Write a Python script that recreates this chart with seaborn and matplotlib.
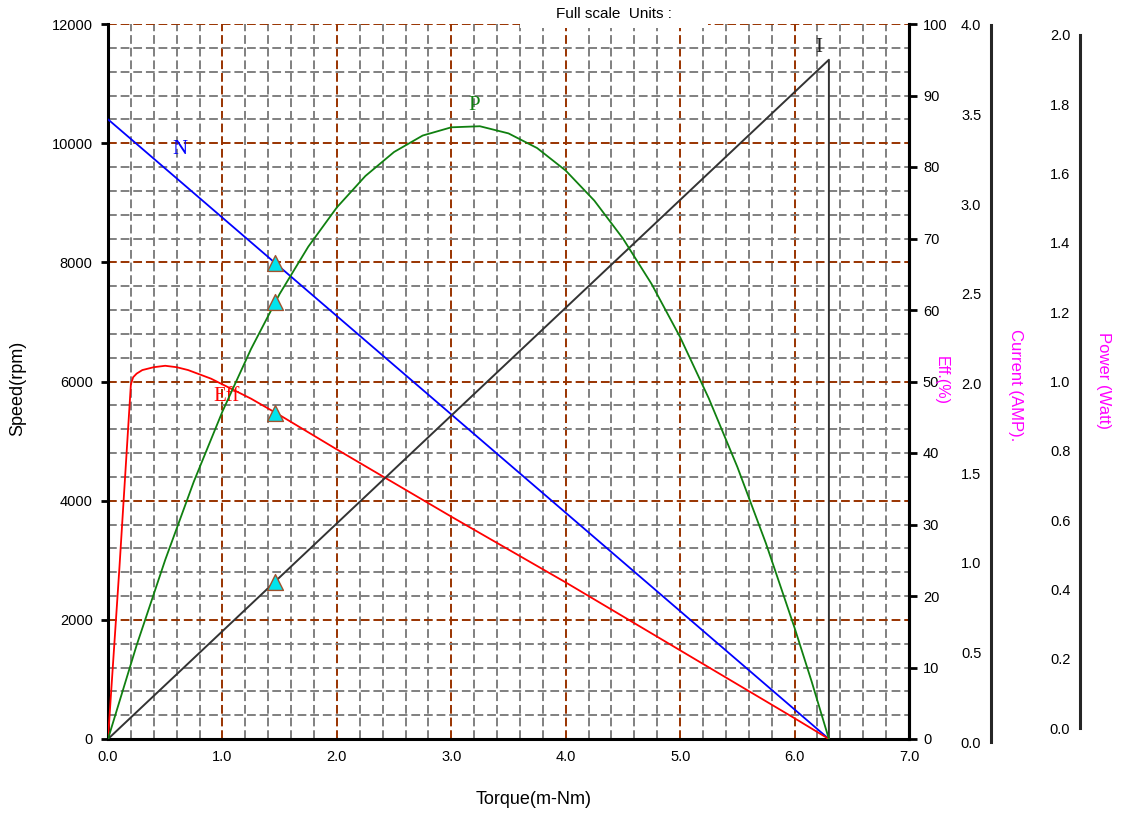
import matplotlib
matplotlib.use("Agg")
import matplotlib.pyplot as plt
import seaborn as sns
import numpy as np
import pandas as pd
from matplotlib.ticker import MultipleLocator
from matplotlib.patches import Rectangle

# ---------------- data ----------------
speed_torque = [0.0, 6.3]
speed_rpm = [10400, 0]

cur_torque = [0.0, 6.3, 6.3]
cur_amp = [0.0, 3.8, 0.0]

pow_torque = [0.0, 0.25, 0.5, 0.75, 1.0, 1.25, 1.5, 1.75, 2.0, 2.25, 2.5, 2.75, 3.0,
              3.25, 3.5, 3.75, 4.0, 4.25, 4.5, 4.75, 5.0, 5.25, 5.5, 5.75, 6.0, 6.15, 6.3]
pow_watt = [0.0, 0.262, 0.501, 0.720, 0.916, 1.091, 1.245, 1.377, 1.487, 1.575, 1.642,
            1.688, 1.711, 1.714, 1.694, 1.653, 1.590, 1.506, 1.400, 1.273, 1.124, 0.953,
            0.761, 0.547, 0.311, 0.160, 0.0]

eff_torque = [0.0, 0.1, 0.18, 0.2, 0.22, 0.25, 0.3, 0.4, 0.5, 0.6, 0.7, 0.8, 0.9, 1.0,
              1.25, 1.5, 2.0, 3.0, 4.0, 5.0, 6.0, 6.3]
eff_pct = [0.0, 24.0, 44.5, 49.6, 50.6, 51.1, 51.6, 52.0, 52.2, 52.0, 51.6, 51.0, 50.4,
           49.6, 47.6, 45.3, 40.5, 31.1, 21.9, 12.4, 2.9, 0.0]

mark_torque = [1.46]
mark_speed = [7990]
mark_pow = [1.222]
mark_eff = [45.6]
mark_cur = [0.88]

x_ticks = [0.0, 1.0, 2.0, 3.0, 4.0, 5.0, 6.0, 7.0]
speed_ticks = [0, 2000, 4000, 6000, 8000, 10000, 12000]
eff_ticks = [0, 10, 20, 30, 40, 50, 60, 70, 80, 90, 100]
cur_ticks = [0.0, 0.5, 1.0, 1.5, 2.0, 2.5, 3.0, 3.5, 4.0]
pow_ticks = [0.0, 0.2, 0.4, 0.6, 0.8, 1.0, 1.2, 1.4, 1.6, 1.8, 2.0]

# ---------------- style ----------------
sns.set_theme(style="white")
plt.rcParams['font.family'] = ['Liberation Sans', 'DejaVu Sans']
plt.rcParams['axes.linewidth'] = 2.0

W, H = 1124, 816
fig = plt.figure(figsize=(W / 100, H / 100), dpi=100)

def fx(px):
    return px / W

def fy(py):
    return 1 - py / H

TICK_FS = 10.5
L, R, T, B = 108, 909, 24, 739
ax = fig.add_axes([fx(L), fy(B), fx(R) - fx(L), fy(T) - fy(B)])
ax.set_xlim(0, 7)
ax.set_ylim(0, 12000)

major_c = "#993300"
minor_c = "#808080"
ax.xaxis.set_major_locator(MultipleLocator(1.0))
ax.xaxis.set_minor_locator(MultipleLocator(0.2))
ax.yaxis.set_major_locator(MultipleLocator(2000))
ax.yaxis.set_minor_locator(MultipleLocator(400))
ax.grid(which="minor", color=minor_c, linestyle=(0, (4.5, 2)), linewidth=1.4, zorder=0)
ax.grid(which="major", color=major_c, linestyle=(0, (4.5, 2)), linewidth=1.4, zorder=0)
ax.set_axisbelow(True)
ax.set_xticks(x_ticks)
ax.set_xticklabels([f"{v:.1f}" for v in x_ticks])
ax.set_yticks(speed_ticks)
ax.set_yticklabels([str(v) for v in speed_ticks])
ax.tick_params(which="major", direction="out", length=5, width=2, labelsize=TICK_FS,
               colors="black", pad=6)
ax.tick_params(axis="x", which="major", pad=3)
ax.tick_params(which="minor", length=0)
ax.spines["top"].set_visible(False)
for s in ["left", "bottom", "right"]:
    ax.spines[s].set_color("black")
    ax.spines[s].set_linewidth(2.2)

sns.lineplot(x=speed_torque, y=speed_rpm, ax=ax, color="#0000ff", linewidth=1.3,
             estimator=None, sort=False, zorder=3)

# efficiency axis (right spine of main)
ax_eff = ax.twinx()
ax_eff.set_ylim(0, 100)
ax_eff.set_yticks(eff_ticks)
ax_eff.set_yticklabels([str(v) for v in eff_ticks])
ax_eff.tick_params(axis="y", direction="out", length=6, width=2, labelsize=TICK_FS,
                   colors="black", pad=4)
for s in ["top", "left", "bottom"]:
    ax_eff.spines[s].set_visible(False)
ax_eff.spines["right"].set_linewidth(2.2)
ax_eff.spines["right"].set_color("black")
ax_eff.grid(False)
sns.lineplot(x=eff_torque, y=eff_pct, ax=ax_eff, color="#ff0000", linewidth=1.3,
             estimator=None, sort=False, zorder=3)

# current data axis
ax_cur = ax.twinx()
ax_cur.set_ylim(0, 4)
ax_cur.axis("off")
sns.lineplot(x=cur_torque, y=cur_amp, ax=ax_cur, color="#333333", linewidth=1.4,
             estimator=None, sort=False, zorder=3)

# power data axis
ax_pow = ax.twinx()
ax_pow.set_ylim(0, 2)
ax_pow.axis("off")
sns.lineplot(x=pow_torque, y=pow_watt, ax=ax_pow, color="#108010", linewidth=1.3,
             estimator=None, sort=False, zorder=3)

# markers
tri = dict(marker="^", s=130, color="#00e5ee", edgecolor="#a0522d", linewidth=1.0, zorder=6)
sns.scatterplot(x=mark_torque, y=mark_speed, ax=ax, **tri)
sns.scatterplot(x=mark_torque, y=mark_eff, ax=ax_eff, **tri)
sns.scatterplot(x=mark_torque, y=mark_cur, ax=ax_cur, **tri)
sns.scatterplot(x=mark_torque, y=mark_pow, ax=ax_pow, **tri)
for a in (ax, ax_eff, ax_cur, ax_pow):
    if a.get_legend() is not None:
        a.get_legend().remove()
    a.set_xlim(0, 7)
ax.set_xlabel("")
ax.set_ylabel("")

# curve labels
serif = ['Liberation Serif', 'DejaVu Serif']
ax.text(0.63, 9900, "N", color="#0000ff", fontsize=15, family=serif, ha="center", va="center")
ax.text(3.2, 10640, "P", color="#108010", fontsize=15, family=serif, ha="center", va="center")
ax.text(1.04, 5740, "Eff", color="#ff0000", fontsize=15, family=serif, ha="center", va="center")
ax.text(6.21, 11600, "I", color="#222222", fontsize=15, family=serif, ha="center", va="center")

# axis titles
fig.text(fx(534), fy(799), "Torque(m-Nm)", fontsize=13, color="black", ha="center", va="center")
fig.text(fx(18), fy(388), "Speed(rpm)", fontsize=13, color="black", rotation=90,
         ha="center", va="center")

# display axis: current
cb, ct, cx = 742, 25, 991
ax_cd = fig.add_axes([fx(cx), fy(cb), 0.0001, fy(ct) - fy(cb)])
ax_cd.set_ylim(0, 4)
ax_cd.set_yticks(cur_ticks)
ax_cd.set_yticklabels([f"{v:.1f}" for v in cur_ticks])
ax_cd.set_xticks([])
ax_cd.patch.set_visible(False)
for s in ["top", "right", "bottom"]:
    ax_cd.spines[s].set_visible(False)
ax_cd.spines["left"].set_linewidth(2.2)
ax_cd.tick_params(axis="y", direction="inout", length=12, width=2, labelsize=TICK_FS,
                  colors="black", pad=1)

# display axis: power
pb, pt, px_ = 728, 35, 1080
ax_pd = fig.add_axes([fx(px_), fy(pb), 0.0001, fy(pt) - fy(pb)])
ax_pd.set_ylim(0, 2)
ax_pd.set_yticks(pow_ticks)
ax_pd.set_yticklabels([f"{v:.1f}" for v in pow_ticks])
ax_pd.set_xticks([])
ax_pd.patch.set_visible(False)
for s in ["top", "right", "bottom"]:
    ax_pd.spines[s].set_visible(False)
ax_pd.spines["left"].set_linewidth(2.2)
ax_pd.tick_params(axis="y", direction="inout", length=12, width=2, labelsize=TICK_FS,
                  colors="black", pad=1)

# magenta axis titles
mag = "#ff00ff"
fig.text(fx(941), fy(380), "Eff.(%)", color=mag, fontsize=11.5, rotation=270,
         ha="center", va="center")
fig.text(fx(1016), fy(385), "Current (AMP).", color=mag, fontsize=12, rotation=270,
         ha="center", va="center")
fig.text(fx(1103), fy(381), "Power (Watt)", color=mag, fontsize=12, rotation=270,
         ha="center", va="center")

# title with white gap over top grid line
fig.add_artist(Rectangle((fx(520), fy(28)), fx(708) - fx(520), fy(0) - fy(28),
                         transform=fig.transFigure, facecolor="white",
                         edgecolor="none", zorder=10))
fig.text(fx(614), fy(14), "Full scale  Units :", fontsize=11, color="black",
         ha="center", va="center", zorder=11)

fig.savefig("out.png", dpi=100)
